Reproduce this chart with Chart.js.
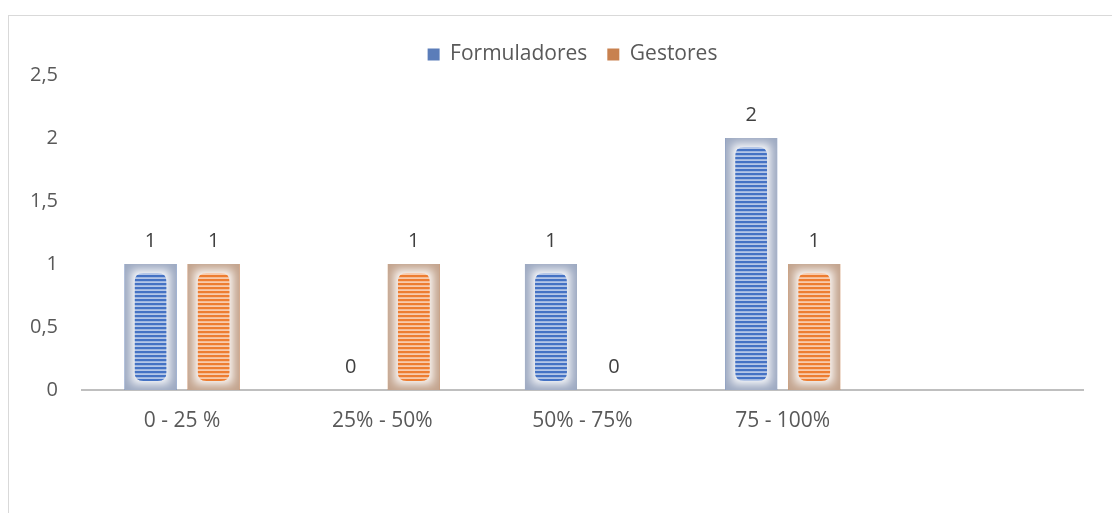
<!DOCTYPE html>
<html>
<head>
<meta charset="utf-8">
<script src="https://cdn.jsdelivr.net/npm/chart.js@4.4.1/dist/chart.umd.min.js"></script>
<style>
    html, body { margin: 0; padding: 0; background: #fff; overflow: hidden; }
    #frame {
        position: absolute; left: 8px; top: 15px; width: 1120px; height: 520px;
        border: 1px solid #d9d9d9; box-sizing: border-box;
    }
    #wrap { position: absolute; left: 0; top: 0; width: 1112px; height: 513px; }
</style>
</head>
<body>
<div id="frame"></div>
<div id="wrap"><canvas id="chart"></canvas></div>
<script>
// Datos del gráfico
const categories = ['0 - 25 %', '25% - 50%', '50% - 75%', '75 - 100%', ''];
const formuladores = [1, 0, 1, 2, null];
const gestores = [1, 1, 0, 1, null];
const yTicks = [0, 0.5, 1, 1.5, 2, 2.5];

const FONT = '"Open Sans", Lato, sans-serif';

// colores por serie: leyenda, marco, franja oscura, franja clara
const styles = [
    { legend: '#5b7db9', frame: '#9eaac2', dark: '#4472c4', light: '#b4c6e7' },
    { legend: '#c8814f', frame: '#c3a48e', dark: '#ed7d31', light: '#f8cbad' }
];

function roundRect(ctx, x, y, w, h, r) {
    ctx.beginPath();
    ctx.moveTo(x + r, y);
    ctx.lineTo(x + w - r, y);
    ctx.quadraticCurveTo(x + w, y, x + w, y + r);
    ctx.lineTo(x + w, y + h - r);
    ctx.quadraticCurveTo(x + w, y + h, x + w - r, y + h);
    ctx.lineTo(x + r, y + h);
    ctx.quadraticCurveTo(x, y + h, x, y + h - r);
    ctx.lineTo(x, y + r);
    ctx.quadraticCurveTo(x, y, x + r, y);
    ctx.closePath();
}

// pinta las barras con marco difuminado y relleno rayado, y sus etiquetas
const stripedBars = {
    id: 'stripedBars',
    afterLayout(chart) {
        // la leyenda del original está algo desplazada a la derecha
        chart.legend.left += 31;
        chart.legend.right += 31;
    },
    afterDatasetsDraw(chart) {
        const ctx = chart.ctx;
        chart.data.datasets.forEach((ds, di) => {
            const st = styles[di];
            chart.getDatasetMeta(di).data.forEach((bar, i) => {
                const v = ds.data[i];
                if (v === null || v === undefined) return;
                const { x, y, base, width } = bar.getProps(['x', 'y', 'base', 'width'], true);
                const left = x - width / 2;
                const h = base - y;
                if (h > 1) {
                    ctx.save();
                    ctx.beginPath();
                    ctx.rect(left, y, width, h);
                    ctx.clip();
                    ctx.fillStyle = st.frame;
                    ctx.fillRect(left, y, width, h);
                    ctx.filter = 'blur(5px)';
                    ctx.fillStyle = '#ffffff';
                    ctx.fillRect(left + 7, y + 6, width - 14, h - 12);
                    ctx.filter = 'none';
                    // relleno interior rayado
                    const il = left + 10, it = y + 9, iw = width - 20, ih = h - 18;
                    roundRect(ctx, il, it, iw, ih, 9);
                    ctx.clip();
                    ctx.fillStyle = st.light;
                    ctx.fillRect(il, it, iw, ih);
                    ctx.fillStyle = st.dark;
                    for (let sy = it + 2; sy < it + ih; sy += 4) {
                        ctx.fillRect(il, sy, iw, 2.2);
                    }
                    ctx.restore();
                }
                ctx.save();
                ctx.fillStyle = '#404040';
                ctx.font = '20px ' + FONT;
                ctx.textAlign = 'center';
                ctx.textBaseline = 'middle';
                ctx.fillText(String(v), x, y - 23);
                ctx.restore();
            });
        });
    }
};

new Chart(document.getElementById('chart'), {
    type: 'bar',
    data: {
        labels: categories,
        datasets: [
            { label: 'Formuladores', data: formuladores, backgroundColor: styles[0].legend },
            { label: 'Gestores', data: gestores, backgroundColor: styles[1].legend }
        ]
    },
    options: {
        responsive: true,
        maintainAspectRatio: false,
        animation: false,
        categoryPercentage: 0.63,
        barPercentage: 0.825,
        layout: { padding: { top: 24, right: 29, bottom: 0, left: 0 } },
        plugins: {
            legend: {
                position: 'top',
                labels: {
                    font: { family: FONT, size: 21 },
                    color: '#595959',
                    boxWidth: 12,
                    boxHeight: 12,
                    padding: 20
                }
            },
            tooltip: { enabled: false }
        },
        scales: {
            x: {
                grid: { display: false, drawTicks: false },
                border: { color: '#bfbfbf', width: 2 },
                ticks: {
                    color: '#595959',
                    font: { family: FONT, size: 21 },
                    padding: 18,
                    maxRotation: 0
                },
                afterFit(scale) { scale.height = 123; }
            },
            y: {
                min: 0,
                max: 2.5,
                grid: { display: false, drawTicks: false },
                border: { display: false },
                afterBuildTicks(scale) { scale.ticks = yTicks.map(v => ({ value: v })); },
                ticks: {
                    color: '#595959',
                    font: { family: FONT, size: 20 },
                    padding: 24,
                    callback: v => String(v).replace('.', ',')
                },
                afterFit(scale) { scale.width = 82; }
            }
        }
    },
    plugins: [stripedBars]
});
</script>
</body>
</html>
